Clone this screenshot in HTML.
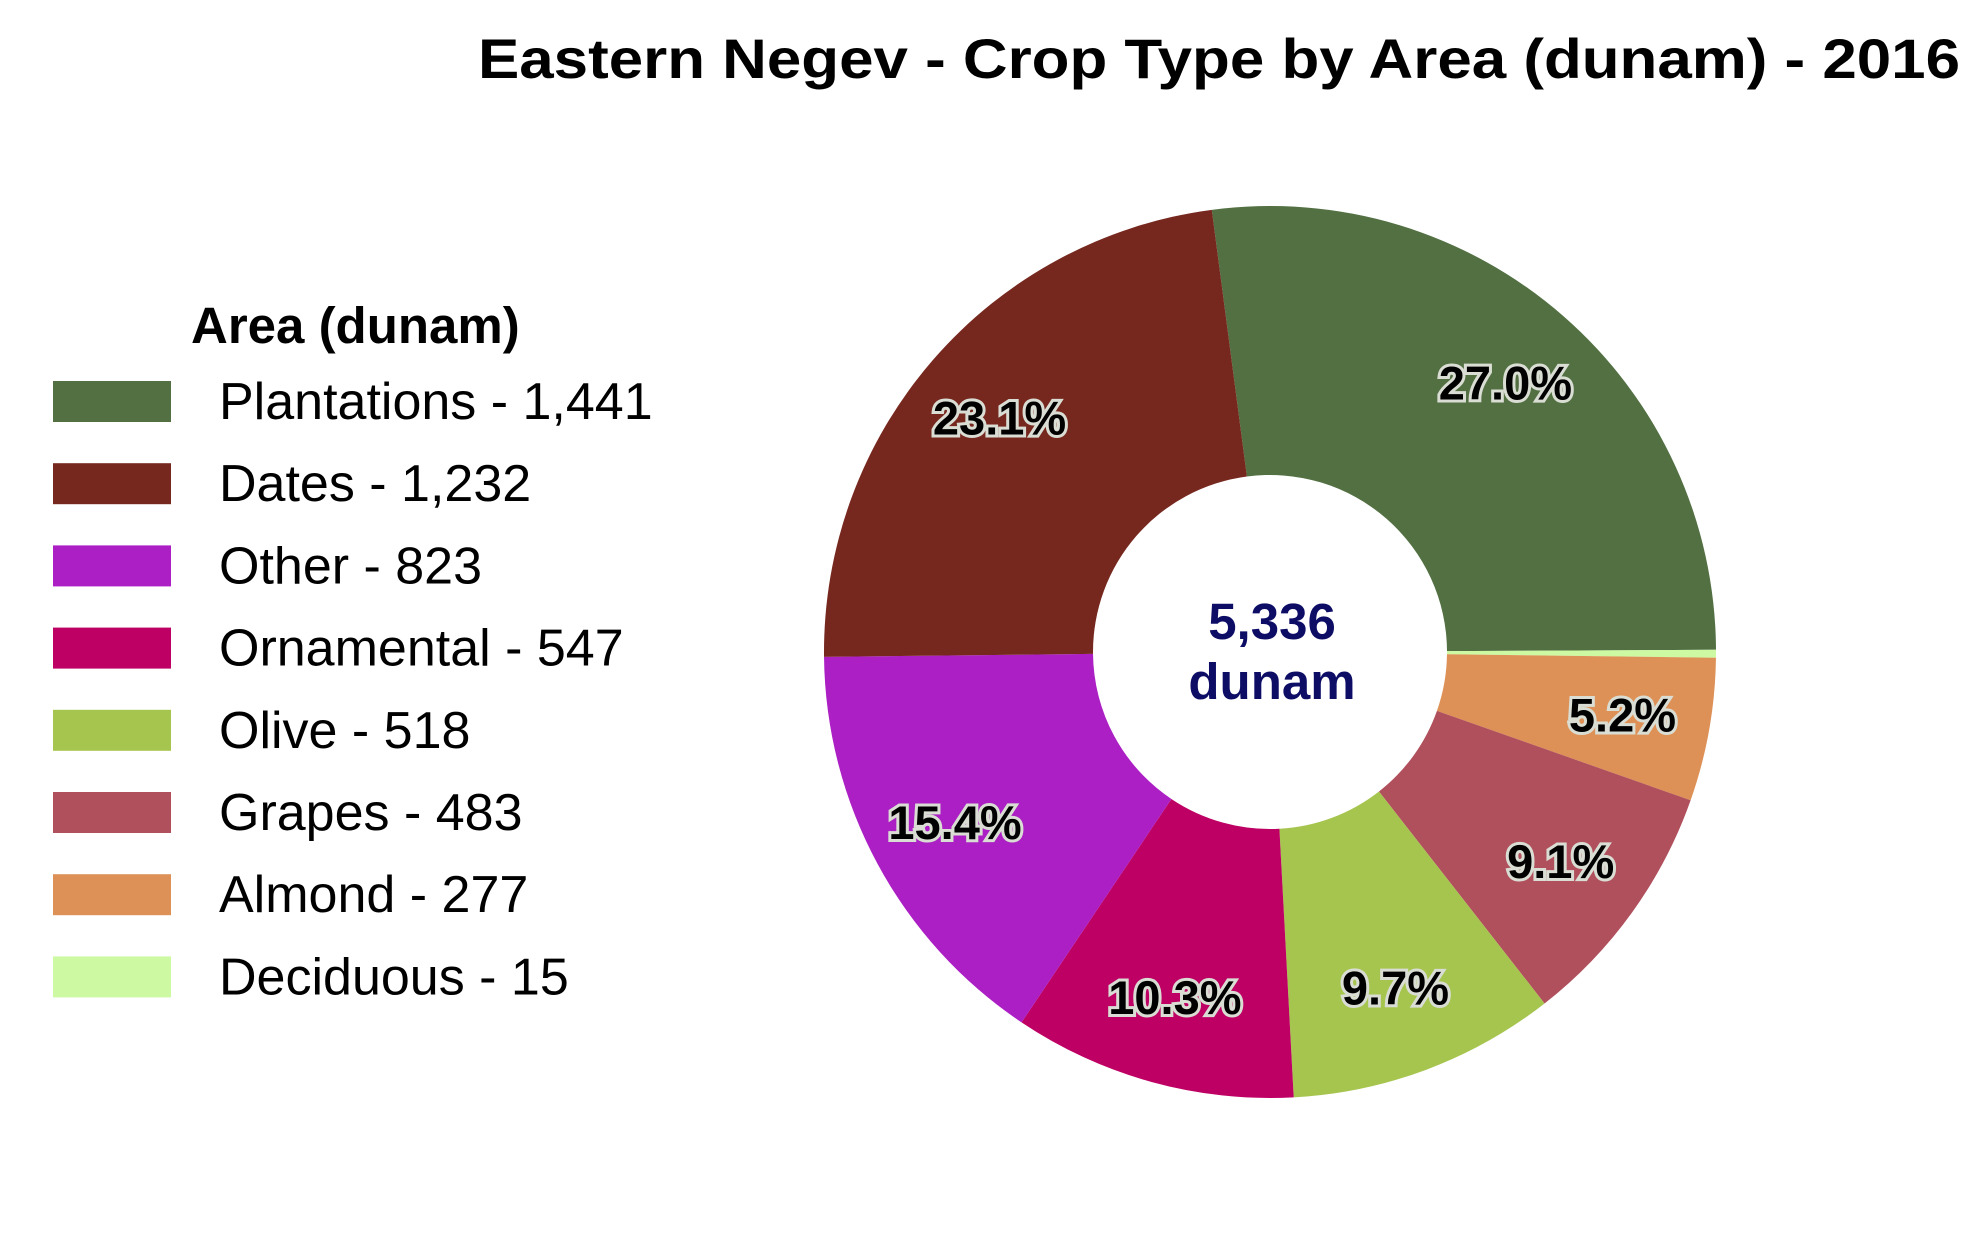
<!DOCTYPE html>
<html><head><meta charset="utf-8"><style>
html,body{margin:0;padding:0;background:#fff;}
svg{display:block;font-family:"Liberation Sans",Calibri,sans-serif;}
</style></head><body>
<svg id="chart" width="1981" height="1234" viewBox="0 0 1981 1234">
<text x="1219" y="78" text-anchor="middle" font-size="56" font-weight="bold" fill="#000" textLength="1482" lengthAdjust="spacingAndGlyphs">Eastern Negev - Crop Type by Area (dunam) - 2016</text>
<text x="191" y="343" font-size="51" font-weight="bold" fill="#000">Area (dunam)</text>
<g id="legend"></g>
<g id="slices"></g>
<g id="labels"></g>
<text x="1272" y="639" text-anchor="middle" font-size="51" font-weight="bold" fill="#0d0d66">5,336</text>
<text x="1272" y="699" text-anchor="middle" font-size="51" font-weight="bold" fill="#0d0d66">dunam</text>
</svg>
<script>
const categories = ["Plantations","Dates","Other","Ornamental","Olive","Grapes","Almond","Deciduous"];
const values = [1441,1232,823,547,518,483,277,15];
const colors = ["#527042","#76281f","#ab1fc4","#be0064","#a6c54f","#b0505c","#de9156","#cdf9a3"];
const drawOrder = [0,7,6,5,4,3,2,1];
const NS="http://www.w3.org/2000/svg";
const cx=1270, cy=652, R=446, r=177, labelR=358, startDeg=-7.5;
const total=values.reduce((a,b)=>a+b,0);
function pt(deg,rad){const a=deg*Math.PI/180;return [cx+rad*Math.sin(a),cy-rad*Math.cos(a)];}
const sl=document.getElementById('slices'), lb=document.getElementById('labels'), lg=document.getElementById('legend');
let ang=startDeg;
drawOrder.forEach(i=>{
  const sweep=values[i]/total*360, a0=ang, a1=ang+sweep; ang=a1;
  const large=sweep>180?1:0;
  const [x0,y0]=pt(a0,R),[x1,y1]=pt(a1,R),[x2,y2]=pt(a1,r),[x3,y3]=pt(a0,r);
  const p=document.createElementNS(NS,'path');
  p.setAttribute('d',`M${x0},${y0}A${R},${R} 0 ${large} 1 ${x1},${y1}L${x2},${y2}A${r},${r} 0 ${large} 0 ${x3},${y3}Z`);
  p.setAttribute('fill',colors[i]);
  
  
  sl.appendChild(p);
  const pct=values[i]/total*100;
  if(pct>=1){
    const [lx,ly]=pt((a0+a1)/2,labelR);
    const t=document.createElementNS(NS,'text');
    t.setAttribute('x',lx);t.setAttribute('y',ly+17);
    t.setAttribute('text-anchor','middle');t.setAttribute('font-size','47');t.setAttribute('font-weight','bold');
    t.setAttribute('fill','#000');t.setAttribute('stroke','#d9ddd3');t.setAttribute('stroke-width','6');t.setAttribute('paint-order','stroke');
    t.textContent=pct.toFixed(1)+'%';
    
    
    lb.appendChild(t);
  }
});
categories.forEach((c,i)=>{
  const y=381+i*82.2;
  const rc=document.createElementNS(NS,'rect');
  rc.setAttribute('x',53);rc.setAttribute('y',y);rc.setAttribute('width',118);rc.setAttribute('height',41);rc.setAttribute('fill',colors[i]);
  
  
  lg.appendChild(rc);
  const t=document.createElementNS(NS,'text');
  t.setAttribute('x',219);t.setAttribute('y',y+38);t.setAttribute('font-size','52');t.setAttribute('fill','#000');
  t.textContent=c+' - '+values[i].toLocaleString('en-US');
  
  
  lg.appendChild(t);
});
</script>
</body></html>
